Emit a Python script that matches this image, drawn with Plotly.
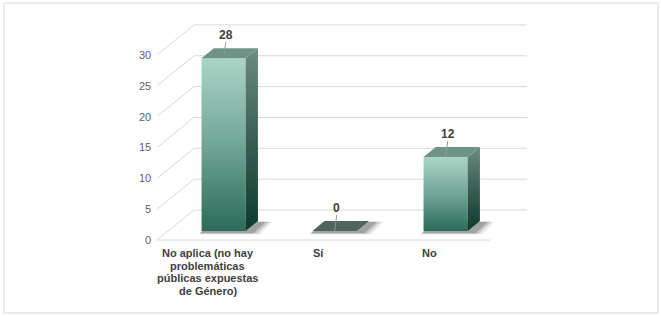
import plotly.graph_objects as go

# ---------------- data ----------------
categories = ["No aplica (no hay<br>problemáticas<br>públicas expuestas<br>de Género)", "Sí", "No"]
values = [28, 0, 12]
tick_values = [0, 5, 10, 15, 20, 25, 30]
tick_labels = ["0", "5", "10", "15", "20", "25", "30"]

# ---------------- 3D projection settings ----------------
DX = 0.333     # depth shift along x (category units)
DY = 4.86      # depth shift along y (value units)
Z1, Z2 = 0.30, 0.633   # bar front / back depth
W = 0.397      # bar width (category units)
X_MIN, X_MAX = -0.5, 2.5

FRONT_SCALE = [[0, "#2b6b58"], [0.5, "#70a696"], [1, "#abd4c7"]]
SIDE_SCALE = [[0, "#0c3a2c"], [0.5, "#3a5f54"], [1, "#6b8b81"]]
TOP_COLOR = "#6e9388"
FLAT_COLOR = "#50645e"
GRID = "#d9d9d9"
FONT = "Liberation Sans, Arial, sans-serif"


def proj(x, v, z):
    return x + z * DX, v + z * DY


fig = go.Figure()

# gridlines: left wall diagonal + back wall horizontal
gx, gy = [], []
for v in tick_values:
    a = proj(X_MIN, v, 0)
    b = proj(X_MIN, v, 1)
    c = proj(X_MAX, v, 1)
    gx += [a[0], b[0], c[0], None]
    gy += [a[1], b[1], c[1], None]
fig.add_trace(go.Scatter(x=gx, y=gy, mode="lines", line=dict(color=GRID, width=1),
                         hoverinfo="skip", showlegend=False))
# floor front edge
fa, fb = proj(X_MIN, 0, 0), proj(X_MAX, 0, 0)
fig.add_trace(go.Scatter(x=[fa[0], fb[0]], y=[fa[1], fb[1]], mode="lines",
                         line=dict(color=GRID, width=1), hoverinfo="skip", showlegend=False))


def poly(pts, **kw):
    xs = [p[0] for p in pts] + [pts[0][0]]
    ys = [p[1] for p in pts] + [pts[0][1]]
    fig.add_trace(go.Scatter(x=xs, y=ys, mode="lines", fill="toself",
                             line=dict(width=0), hoverinfo="skip", showlegend=False, **kw))


for i, v in enumerate(values):
    l, r = i - W / 2, i + W / 2
    # soft shadow on the floor
    for k, op in enumerate([0.10, 0.15, 0.22]):
        e = 0.045 - k * 0.013
        poly([proj(l - e * 0.6, -0.25 - e * 6, Z1), proj(r + e * 2.2 + 0.03, -0.25 - e * 6, Z1),
              proj(r + e * 2.2 + 0.03, -0.1, Z2), proj(l - e * 0.6, -0.1, Z2)],
             fillcolor=f"rgba(20,30,28,{op})")
    if v > 0:
        # front face
        poly([proj(l, 0, Z1), proj(r, 0, Z1), proj(r, v, Z1), proj(l, v, Z1)],
             fillgradient=dict(type="vertical", colorscale=FRONT_SCALE), fillcolor="#70a696")
        # side face
        poly([proj(r, 0, Z1), proj(r, 0, Z2), proj(r, v, Z2), proj(r, v, Z1)],
             fillgradient=dict(type="vertical", colorscale=SIDE_SCALE), fillcolor="#3a5f54")
        top = TOP_COLOR
    else:
        top = FLAT_COLOR
    # top face
    poly([proj(l, v, Z1), proj(r, v, Z1), proj(r, v, Z2), proj(l, v, Z2)], fillcolor=top)

    # leader line + data label
    b0 = proj(i, v, Z1)
    b1 = proj(i + 0.02, v + 2.6, Z1)
    fig.add_trace(go.Scatter(x=[b0[0], b1[0]], y=[b0[1], b1[1]], mode="lines",
                             line=dict(color="#8c9c97", width=1), hoverinfo="skip", showlegend=False))
    lab = proj(i + 0.02, v + 3.8, Z1)
    fig.add_annotation(x=lab[0], y=lab[1], text=f"<b>{v}</b>", showarrow=False,
                       xanchor="center", yanchor="middle",
                       font=dict(family=FONT, size=12, color="#404040"))

    # category label (one annotation per line for tight line spacing)
    for j, line in enumerate(categories[i].split("<br>")):
        fig.add_annotation(x=i - 0.045, y=-2.1 - j * 2.03, text=f"<b>{line}</b>", showarrow=False,
                           xanchor="center", yanchor="middle",
                           font=dict(family=FONT, size=11, color="#404040"))

# value axis tick labels
for v, t in zip(tick_values, tick_labels):
    fig.add_annotation(x=X_MIN - 0.036, y=v, text=t, showarrow=False,
                       xanchor="right", yanchor="middle",
                       font=dict(family=FONT, size=11, color="#5f5f5f"))

# outer frame
fig.add_shape(type="rect", xref="paper", yref="paper",
              x0=-0.192, x1=1.116, y0=-0.0456, y1=1.042,
              line=dict(color="#d9d9d9", width=1), fillcolor="rgba(0,0,0,0)", layer="below")

fig.update_layout(
    width=661, height=316,
    margin=dict(l=100, r=61, t=15, b=16),
    paper_bgcolor="white", plot_bgcolor="white",
    xaxis=dict(range=[-1.0135, 3.491], visible=False, fixedrange=True),
    yaxis=dict(range=[-9.72, 36.47], visible=False, fixedrange=True),
    showlegend=False,
)

fig.write_html("out.html", config={"displayModeBar": False},
               post_script="document.body.style.margin='0';")
